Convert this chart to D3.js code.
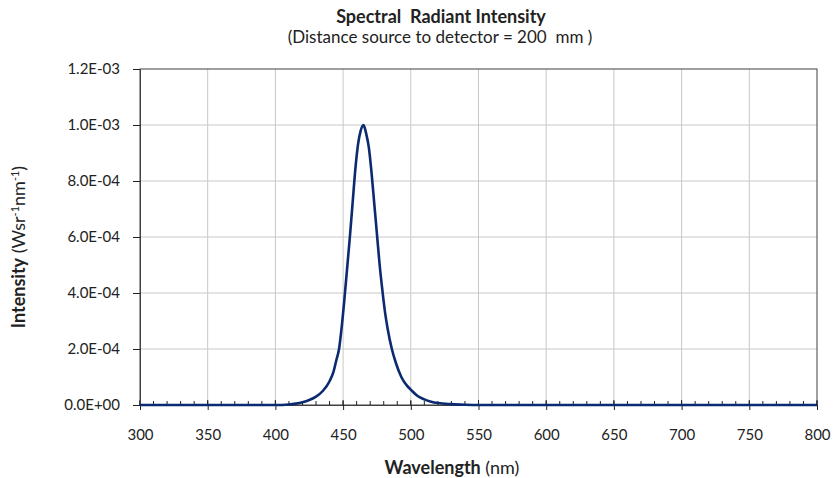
<!DOCTYPE html>
<html>
<head>
<meta charset="utf-8">
<script src="https://cdn.jsdelivr.net/npm/d3@7"></script>
<style>
  body { margin: 0; background: #fff; }
  text { font-family: "Lato", "Open Sans", sans-serif; fill: #222; white-space: pre; }
</style>
</head>
<body>
<div id="chart"></div>
<script>
// chart data
var wavelengths = [300, 320, 340, 360, 380, 400, 410, 415, 420, 425, 430, 435, 440, 443, 445, 447, 449,
    451, 453, 455, 457, 459, 461, 463, 465, 466, 467, 469, 471, 473, 475, 477, 479, 481, 483, 486,
    489, 493, 497, 500, 505, 510, 515, 520, 530, 540, 550, 600, 650, 700, 750, 800];
var intensity = [0, 0, 0, 0, 0, 0, 0.000002, 0.000005, 0.00001, 0.000018, 0.00003, 0.00005, 0.000085,
    0.00012, 0.00016, 0.0002, 0.00028, 0.00038, 0.00049, 0.0006, 0.00072, 0.00084, 0.00093, 0.00098,
    0.001, 0.00099, 0.00097, 0.00092, 0.00083, 0.00072, 0.00061, 0.0005, 0.00041, 0.00033, 0.00027,
    0.0002, 0.00015, 0.0001, 0.00007, 0.000055, 0.000032, 0.00002, 0.000012, 0.000007, 0.000003,
    0.000001, 0, 0, 0, 0, 0, 0];
var xTicks = [300, 350, 400, 450, 500, 550, 600, 650, 700, 750, 800];
var yTicks = [0, 0.0002, 0.0004, 0.0006, 0.0008, 0.001, 0.0012];

var data = wavelengths.map(function(w, i) { return { w: w, v: intensity[i] }; });

// svg area
var svgWidth = 833;
var svgHeight = 478;
var margin = { top: 69, right: 16, bottom: 73, left: 140 };
var width = svgWidth - margin.left - margin.right;
var height = svgHeight - margin.top - margin.bottom;

var svg = d3.select("#chart").append("svg")
    .attr("width", svgWidth)
    .attr("height", svgHeight);

var g = svg.append("g")
    .attr("transform", `translate(${margin.left}, ${margin.top})`);

// scales
var x = d3.scaleLinear().domain([300, 800]).range([0, width]);
var y = d3.scaleLinear().domain([0, 0.0012]).range([height, 0]);

// gridlines
g.selectAll(".vgrid").data(xTicks.slice(1, -1)).enter().append("line")
    .attr("x1", d => x(d)).attr("x2", d => x(d))
    .attr("y1", 0).attr("y2", height)
    .attr("stroke", "#c8c8c8");
g.selectAll(".hgrid").data(yTicks.slice(1, -1)).enter().append("line")
    .attr("x1", 0).attr("x2", width)
    .attr("y1", d => y(d)).attr("y2", d => y(d))
    .attr("stroke", "#c8c8c8");

// plot border
g.append("rect")
    .attr("width", width).attr("height", height)
    .attr("fill", "none").attr("stroke", "#404040");

// x axis: minor ticks inside, major ticks cross
var minor = d3.range(300, 801, 10);
g.selectAll(".minor").data(minor).enter().append("line")
    .attr("x1", d => x(d)).attr("x2", d => x(d))
    .attr("y1", height - 4).attr("y2", height)
    .attr("stroke", "#222");
var xAxis = g.append("g")
    .attr("transform", `translate(0, ${height})`)
    .call(d3.axisBottom(x).tickValues(xTicks).tickSize(5).tickPadding(19));
g.selectAll(".xmaj").data(xTicks).enter().append("line")
    .attr("x1", d => x(d)).attr("x2", d => x(d))
    .attr("y1", height - 5).attr("y2", height)
    .attr("stroke", "#222");

var yAxis = g.append("g")
    .call(d3.axisLeft(y).tickValues(yTicks).tickSize(7).tickPadding(13)
        .tickFormat(d => d.toExponential(1).toUpperCase().replace(/E([+-])(\d)$/, "E$10$2")));

[xAxis, yAxis].forEach(function(a) {
    a.select(".domain").attr("stroke", "#404040");
    a.selectAll(".tick line").attr("stroke", "#222");
    a.selectAll("text").style("font-size", "15px").attr("fill", "#333")
        .style("font-family", "Lato, sans-serif");
});

// the curve
g.append("path")
    .datum(data)
    .attr("d", d3.line().x(d => x(d.w)).y(d => y(d.v)).curve(d3.curveMonotoneX))
    .attr("fill", "none")
    .attr("stroke", "#0b2a6f")
    .attr("stroke-width", 2.6)
    .attr("stroke-linejoin", "round");

// titles
svg.append("text")
    .attr("x", 441).attr("y", 23)
    .attr("text-anchor", "middle")
    .style("font-size", "18px").style("font-weight", "bold")
    .text("Spectral  Radiant Intensity");
svg.append("text")
    .attr("x", 440).attr("y", 43)
    .attr("text-anchor", "middle")
    .style("font-size", "17px")
    .text("(Distance source to detector = 200  mm )");

// x axis label
var xl = svg.append("text")
    .attr("x", 452).attr("y", 474)
    .attr("text-anchor", "middle")
    .style("font-size", "18px");
xl.append("tspan").style("font-weight", "bold").text("Wavelength");
xl.append("tspan").text(" (nm)");

// y axis label
var yl = svg.append("text")
    .attr("transform", "translate(25, 247) rotate(-90)")
    .attr("text-anchor", "middle")
    .style("font-size", "18px");
yl.append("tspan").style("font-weight", "bold").text("Intensity");
yl.append("tspan").text(" (Wsr");
yl.append("tspan").attr("dy", -6).style("font-size", "11px").text("-1");
yl.append("tspan").attr("dy", 6).text("nm");
yl.append("tspan").attr("dy", -6).style("font-size", "11px").text("-1");
yl.append("tspan").attr("dy", 6).text(")");
</script>
</body>
</html>
